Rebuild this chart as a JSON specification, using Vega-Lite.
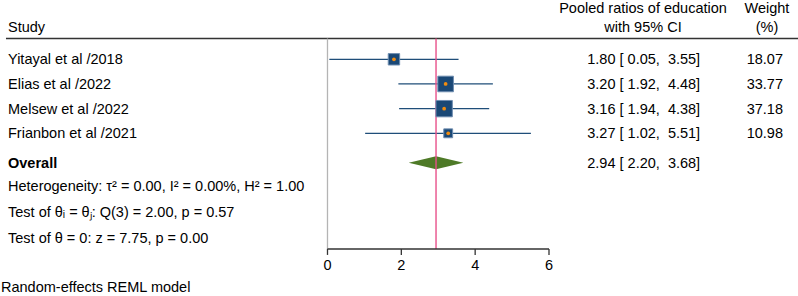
{
  "$schema": "https://vega.github.io/schema/vega-lite/v6.json",
  "width": 798,
  "height": 296,
  "autosize": {"type": "none"},
  "padding": 0,
  "background": "white",
  "config": {"view": {"stroke": null}, "font": "Liberation Sans", "text": {"font": "Liberation Sans", "fontSize": 14.5, "color": "#000000"}},
  "datasets": {
    "studies": [
      {"study": "Yitayal et al /2018", "row": 1, "est": 1.80, "lo": 0.05, "hi": 3.55, "weight": 18.07, "ci": "1.80 [ 0.05,\u00a0 3.55]", "w": "18.07"},
      {"study": "Elias et al /2022", "row": 2, "est": 3.20, "lo": 1.92, "hi": 4.48, "weight": 33.77, "ci": "3.20 [ 1.92,\u00a0 4.48]", "w": "33.77"},
      {"study": "Melsew et al /2022", "row": 3, "est": 3.16, "lo": 1.94, "hi": 4.38, "weight": 37.18, "ci": "3.16 [ 1.94,\u00a0 4.38]", "w": "37.18"},
      {"study": "Frianbon et al /2021", "row": 4, "est": 3.27, "lo": 1.02, "hi": 5.51, "weight": 10.98, "ci": "3.27 [ 1.02,\u00a0 5.51]", "w": "10.98"}
    ],
    "overall": [
      {"label": "Overall", "row": 5.19, "est": 2.94, "lo": 2.20, "hi": 3.68, "ci": "2.94 [ 2.20,\u00a0 3.68]"}
    ],
    "diamond": [
      {"vx": 2.20, "top": 5.19, "bot": 5.19},
      {"vx": 2.94, "top": 4.925, "bot": 5.455},
      {"vx": 3.68, "top": 5.19, "bot": 5.19}
    ],
    "notes": [
      {"note": "Heterogeneity: \u03c4\u00b2 = 0.00, I\u00b2 = 0.00%, H\u00b2 = 1.00", "row": 6.12},
      {"note": "Test of \u03b8\u1d62 = \u03b8\u2c7c: Q(3) = 2.00, p = 0.57", "row": 7.19},
      {"note": "Test of \u03b8 = 0: z = 7.75, p = 0.00", "row": 8.24}
    ],
    "ticks": [{"t": 0}, {"t": 2}, {"t": 4}, {"t": 6}]
  },
  "layer": [
    {
      "data": {"values": [{}]},
      "mark": {"type": "rule", "stroke": "#333333", "strokeWidth": 1.5},
      "encoding": {
        "x": {"datum": -8.709, "type": "quantitative", "scale": {"domain": [-8.871, 12.745], "nice": false, "zero": false}, "axis": null},
        "x2": {"datum": 12.745},
        "y": {"datum": 0.157, "type": "quantitative", "scale": {"domain": [-1.404, 10.595], "nice": false, "zero": false, "reverse": true}, "axis": null}
      }
    },
    {
      "data": {"values": [{}]},
      "mark": {"type": "rule", "stroke": "#b4b4b4", "strokeWidth": 1.3},
      "encoding": {
        "x": {"datum": 0, "type": "quantitative"},
        "y": {"datum": 0.157, "type": "quantitative"},
        "y2": {"datum": 8.69}
      }
    },
    {
      "data": {"name": "studies"},
      "mark": {"type": "rule", "stroke": "#1f4e79", "strokeWidth": 1.3},
      "encoding": {
        "x": {"field": "lo", "type": "quantitative"},
        "x2": {"field": "hi"},
        "y": {"field": "row", "type": "quantitative"}
      }
    },
    {
      "data": {"name": "diamond"},
      "mark": {"type": "area", "color": "#4e7a27", "orient": "vertical", "opacity": 1},
      "encoding": {
        "x": {"field": "vx", "type": "quantitative"},
        "y": {"field": "top", "type": "quantitative"},
        "y2": {"field": "bot"}
      }
    },
    {
      "data": {"name": "overall"},
      "mark": {"type": "rule", "stroke": "#e8508a", "strokeWidth": 1.4, "opacity": 1},
      "encoding": {
        "x": {"field": "est", "type": "quantitative"},
        "y": {"datum": 0.157, "type": "quantitative"},
        "y2": {"datum": 8.69}
      }
    },
    {
      "data": {"values": [{}]},
      "mark": {"type": "rule", "stroke": "#333333", "strokeWidth": 1.3},
      "encoding": {
        "x": {"datum": 0, "type": "quantitative"},
        "x2": {"datum": 6},
        "y": {"datum": 8.69, "type": "quantitative"}
      }
    },
    {
      "data": {"name": "ticks"},
      "mark": {"type": "rule", "stroke": "#333333", "strokeWidth": 1.3},
      "encoding": {
        "x": {"field": "t", "type": "quantitative"},
        "y": {"datum": 8.69, "type": "quantitative"},
        "y2": {"datum": 8.93}
      }
    },
    {
      "data": {"name": "ticks"},
      "mark": {"type": "text", "align": "center", "baseline": "middle", "dy": 1},
      "encoding": {
        "x": {"field": "t", "type": "quantitative"},
        "y": {"datum": 9.34, "type": "quantitative"},
        "text": {"field": "t", "type": "quantitative"}
      }
    },
    {
      "data": {"name": "studies"},
      "mark": {"type": "point", "shape": "square", "filled": true, "fill": "#1a4876", "stroke": "#6f8db0", "strokeWidth": 1, "opacity": 1},
      "encoding": {
        "x": {"field": "est", "type": "quantitative"},
        "y": {"field": "row", "type": "quantitative"},
        "size": {"field": "weight", "type": "quantitative", "scale": {"domain": [0, 100], "range": [0, 720]}, "legend": null}
      }
    },
    {
      "data": {"name": "studies"},
      "mark": {"type": "circle", "color": "#f08c10", "size": 14, "opacity": 1},
      "encoding": {
        "x": {"field": "est", "type": "quantitative"},
        "y": {"field": "row", "type": "quantitative"}
      }
    },
    {
      "data": {"name": "studies"},
      "mark": {"type": "text", "align": "left", "baseline": "middle", "dy": 1},
      "encoding": {
        "x": {"datum": -8.654, "type": "quantitative"},
        "y": {"field": "row", "type": "quantitative"},
        "text": {"field": "study"}
      }
    },
    {
      "data": {"name": "studies"},
      "mark": {"type": "text", "align": "left", "baseline": "middle", "dy": 1},
      "encoding": {
        "x": {"datum": 7.037, "type": "quantitative"},
        "y": {"field": "row", "type": "quantitative"},
        "text": {"field": "ci"}
      }
    },
    {
      "data": {"name": "studies"},
      "mark": {"type": "text", "align": "right", "baseline": "middle", "dy": 1},
      "encoding": {
        "x": {"datum": 12.338, "type": "quantitative"},
        "y": {"field": "row", "type": "quantitative"},
        "text": {"field": "w"}
      }
    },
    {
      "data": {"name": "overall"},
      "mark": {"type": "text", "align": "left", "baseline": "middle", "dy": 1, "fontWeight": "bold"},
      "encoding": {
        "x": {"datum": -8.654, "type": "quantitative"},
        "y": {"field": "row", "type": "quantitative"},
        "text": {"field": "label"}
      }
    },
    {
      "data": {"name": "overall"},
      "mark": {"type": "text", "align": "left", "baseline": "middle", "dy": 1},
      "encoding": {
        "x": {"datum": 7.037, "type": "quantitative"},
        "y": {"field": "row", "type": "quantitative"},
        "text": {"field": "ci"}
      }
    },
    {
      "data": {"name": "notes"},
      "mark": {"type": "text", "align": "left", "baseline": "middle", "dy": 1},
      "encoding": {
        "x": {"datum": -8.654, "type": "quantitative"},
        "y": {"field": "row", "type": "quantitative"},
        "text": {"field": "note"}
      }
    },
    {
      "data": {"values": [{}]},
      "mark": {"type": "text", "align": "left", "baseline": "alphabetic", "text": "Study"},
      "encoding": {
        "x": {"datum": -8.654, "type": "quantitative"},
        "y": {"datum": -0.107, "type": "quantitative"}
      }
    },
    {
      "data": {"values": [{}]},
      "mark": {"type": "text", "align": "center", "baseline": "alphabetic", "text": ["Pooled ratios of education", "with 95% CI"], "lineHeight": 19.5},
      "encoding": {
        "x": {"datum": 8.546, "type": "quantitative"},
        "y": {"datum": -0.897, "type": "quantitative"}
      }
    },
    {
      "data": {"values": [{}]},
      "mark": {"type": "text", "align": "center", "baseline": "alphabetic", "text": ["Weight", "(%)"], "lineHeight": 19.5},
      "encoding": {
        "x": {"datum": 11.904, "type": "quantitative"},
        "y": {"datum": -0.897, "type": "quantitative"}
      }
    },
    {
      "data": {"values": [{}]},
      "mark": {"type": "text", "align": "left", "baseline": "middle", "dy": 1, "text": "Random-effects REML model"},
      "encoding": {
        "x": {"datum": -8.844, "type": "quantitative"},
        "y": {"datum": 10.25, "type": "quantitative"}
      }
    }
  ]
}
